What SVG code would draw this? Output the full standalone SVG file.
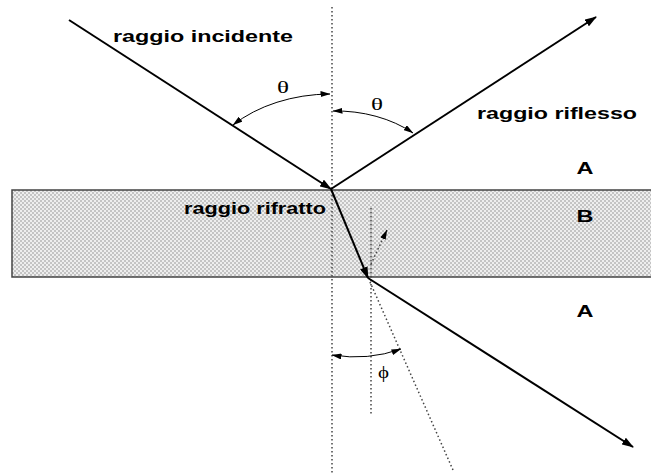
<svg xmlns="http://www.w3.org/2000/svg" width="651" height="473" viewBox="0 0 651 473">
<style>
.ray{stroke:#000;stroke-width:2;fill:none}
.dot{stroke:#444;stroke-width:1.5;stroke-dasharray:1.5 2.5;fill:none}
.arc{stroke:#000;stroke-width:1;fill:none}
.lbl{font-family:"Liberation Sans",Arial,sans-serif;font-weight:bold;font-size:17px;fill:#000}
.sym{font-family:"Liberation Serif","Times New Roman",serif;font-size:17px;fill:#000}
</style>
<defs>
<pattern id="chk" width="4" height="4" patternUnits="userSpaceOnUse">
<rect width="4" height="4" fill="#eeeeee"/>
<rect width="2" height="2" fill="#c4c4c4"/>
<rect x="2" y="2" width="2" height="2" fill="#c4c4c4"/>
</pattern>
<marker id="ah" viewBox="0 0 12 8" refX="11" refY="4" markerWidth="12" markerHeight="8" markerUnits="userSpaceOnUse" orient="auto">
<path d="M0,0 L12,4 L0,8 Z" fill="#000"/>
</marker>
<marker id="sa" viewBox="0 0 10 6" refX="9.5" refY="3" markerWidth="10" markerHeight="6" markerUnits="userSpaceOnUse" orient="auto-start-reverse">
<path d="M0,0 L10,3 L0,6 Z" fill="#000"/>
</marker>
</defs>
<g id="slab">
<rect x="12" y="190" width="660" height="87" fill="url(#chk)" stroke="#444" stroke-width="1.5"/>
</g>
<g id="normals">
<line class="dot" x1="332" y1="7" x2="332" y2="473"/>
<line class="dot" x1="371" y1="208" x2="371" y2="414"/>
<line class="dot" x1="370" y1="282" x2="453" y2="470"/>
<line class="dot" x1="371" y1="264" x2="387" y2="230" marker-end="url(#sa)"/>
</g>
<g id="connectors">
<line class="ray" x1="69" y1="20" x2="331" y2="189" marker-end="url(#ah)"/>
<line class="ray" x1="331" y1="189" x2="596" y2="17" marker-end="url(#ah)"/>
<line class="ray" x1="331" y1="189" x2="368" y2="278" marker-end="url(#ah)"/>
<line class="ray" x1="368" y1="278" x2="633" y2="447" marker-end="url(#ah)"/>
<path class="arc" d="M233,125 A133 95 0 0 1 330,94" marker-start="url(#sa)" marker-end="url(#sa)"/>
<path class="arc" d="M333,111 A112 80 0 0 1 413,133" marker-start="url(#sa)" marker-end="url(#sa)"/>
<path class="arc" d="M332,355 A105 77 0 0 0 401,349" marker-start="url(#sa)" marker-end="url(#sa)"/>
</g>
<g id="labels">
<text class="lbl" x="113" y="42" textLength="180" lengthAdjust="spacingAndGlyphs">raggio incidente</text>
<text class="lbl" x="477" y="119" textLength="160" lengthAdjust="spacingAndGlyphs">raggio riflesso</text>
<text class="lbl" x="184" y="214" textLength="142" lengthAdjust="spacingAndGlyphs">raggio rifratto</text>
<text class="lbl" x="576.5" y="174" textLength="17" lengthAdjust="spacingAndGlyphs">A</text>
<text class="lbl" x="576.5" y="222" textLength="17" lengthAdjust="spacingAndGlyphs">B</text>
<text class="lbl" x="576.5" y="317" textLength="17" lengthAdjust="spacingAndGlyphs">A</text>
<text class="sym" x="277" y="93" textLength="12" lengthAdjust="spacingAndGlyphs">θ</text>
<text class="sym" x="371" y="110" textLength="12" lengthAdjust="spacingAndGlyphs">θ</text>
<text class="sym" x="378" y="378" textLength="11" lengthAdjust="spacingAndGlyphs">ϕ</text>
</g>
</svg>
